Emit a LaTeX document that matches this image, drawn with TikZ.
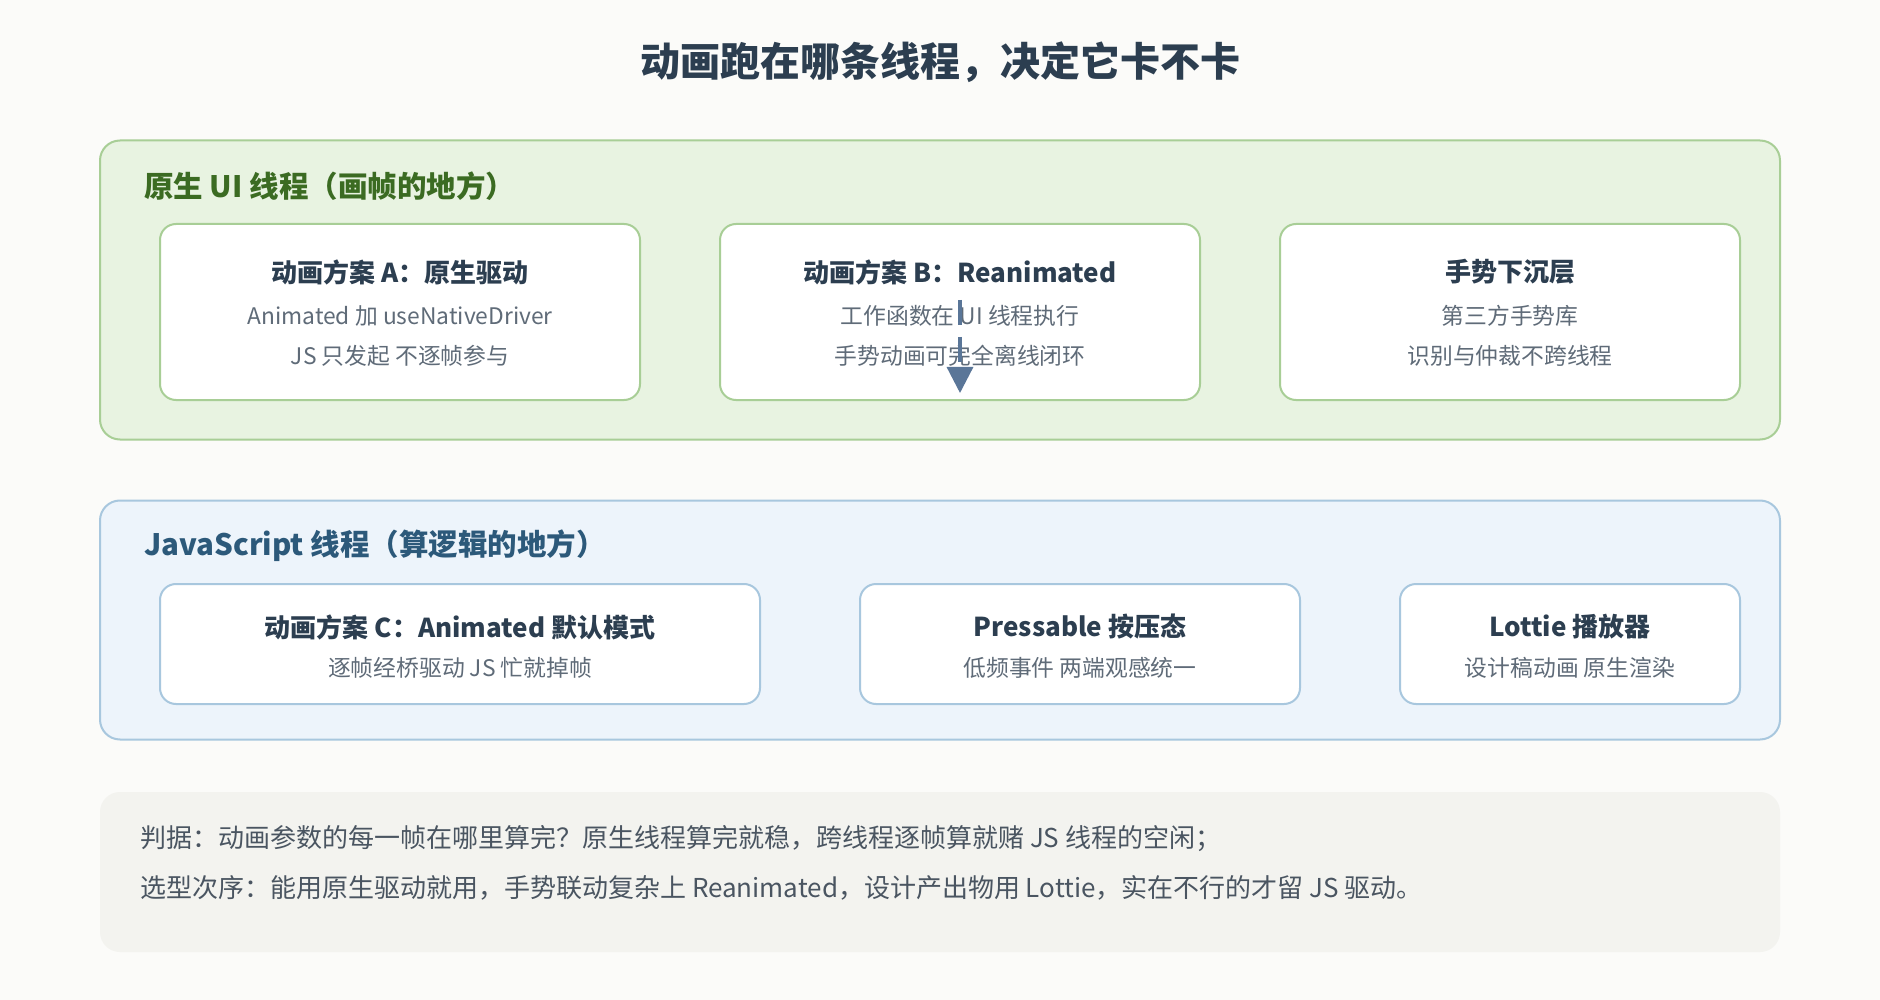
\documentclass[tikz,border=0pt]{standalone}
\usepackage{fontspec}
\setmainfont{Noto Sans CJK SC}
\usepackage{tikz}
\usetikzlibrary{positioning}
\usetikzlibrary{arrows.meta}

\definecolor{bgc}{HTML}{FBFBF9}
\definecolor{gfill}{HTML}{E8F3E1}
\definecolor{gline}{HTML}{A8CE96}
\definecolor{gtxt}{HTML}{3B6B22}
\definecolor{bfill}{HTML}{EDF4FB}
\definecolor{bline}{HTML}{A8C7DE}
\definecolor{btxt}{HTML}{2C597A}
\definecolor{ink}{HTML}{2C3E50}
\definecolor{soft}{HTML}{5F6B78}
\definecolor{note}{HTML}{4A5561}
\definecolor{nfill}{HTML}{F3F3EF}
\definecolor{arr}{HTML}{5A7698}

\begin{document}
\begin{tikzpicture}[x=1pt, y=-1pt,
		zone/.style={draw, rectangle, rounded corners=20pt, line width=2pt, inner sep=0pt},
		card/.style={draw, rectangle, rounded corners=16pt, line width=2pt, fill=white, inner sep=0pt, minimum height=#1},
		zonelbl/.style={anchor=west, inner sep=0pt, font=\fontsize{29.5}{35}\selectfont\bfseries},
		cardttl/.style={inner sep=0pt, text=ink, font=\fontsize{26}{31}\selectfont\bfseries},
		cardsub/.style={inner sep=0pt, text=soft, font=\fontsize{22.8}{27}\selectfont},
		notelbl/.style={anchor=west, inner sep=0pt, text=note, font=\fontsize{26}{30}\selectfont},
		flow/.style={draw=arr, line width=3.3pt, dash pattern=on 25pt off 12pt, -{Triangle[width=26pt, length=26pt, fill=arr]}}]
		\useasboundingbox[fill=bgc] (0, 0) rectangle (1880, 1000);

		\node[inner sep=0pt, text=ink, font=\fontsize{40}{47}\selectfont\bfseries] (title) at (940, 62) {动画跑在哪条线程，决定它卡不卡};

		% UI thread
		\node[zone, fill=gfill, draw=gline, minimum width=1680pt, minimum height=299pt] (ui) at (940, 290) {};
		\node[zonelbl, text=gtxt] (uilbl) at (144, 186) {原生 UI 线程（画帧的地方）};

		\node[card=176pt, draw=gline, minimum width=480pt] (planA) at (400, 312) {};
		\node[card=176pt, draw=gline, minimum width=480pt] (planB) at (960, 312) {};
		\node[card=176pt, draw=gline, minimum width=460pt] (gest) at (1510, 312) {};

		\node[cardttl] (planAt) at (400, 272) {动画方案 A：原生驱动};
		\node[cardsub] (planAs1) at (400, 316) {Animated 加 useNativeDriver};
		\node[cardsub] (planAs2) at (400, 356) {JS 只发起 不逐帧参与};
		\node[cardttl] (planBt) at (960, 272) {动画方案 B：Reanimated};
		\node[cardsub] (planBs1) at (960, 316) {工作函数在 UI 线程执行};
		\node[cardsub] (planBs2) at (960, 356) {手势动画可完全离线闭环};
		\node[cardttl] (gestt) at (1510, 272) {手势下沉层};
		\node[cardsub] (gests1) at (1510, 316) {第三方手势库};
		\node[cardsub] (gests2) at (1510, 356) {识别与仲裁不跨线程};

		\coordinate (flowS) at (960, 300);
		\coordinate (flowE) at (960, 393);
		\path[flow] (flowS) -- (flowE);

		% JS thread
		\node[zone, fill=bfill, draw=bline, minimum width=1680pt, minimum height=239pt] (js) at (940, 620) {};
		\node[zonelbl, text=btxt] (jslbl) at (144, 546) {JavaScript 线程（算逻辑的地方）};

		\node[card=120pt, draw=bline, minimum width=600pt] (planC) at (460, 644) {};
		\node[card=120pt, draw=bline, minimum width=440pt] (press) at (1080, 644) {};
		\node[card=120pt, draw=bline, minimum width=340pt] (lottie) at (1570, 644) {};

		\node[cardttl] (planCt) at (460, 627) {动画方案 C：Animated 默认模式};
		\node[cardsub] (planCs) at (460, 668) {逐帧经桥驱动 JS 忙就掉帧};
		\node[cardttl] (presst) at (1080, 627) {Pressable 按压态};
		\node[cardsub] (presss) at (1080, 668) {低频事件 两端观感统一};
		\node[cardttl] (lottiet) at (1570, 627) {Lottie 播放器};
		\node[cardsub] (lotties) at (1570, 668) {设计稿动画 原生渲染};

		% verdict
		\node[rectangle, rounded corners=20pt, fill=nfill, inner sep=0pt, minimum width=1680pt, minimum height=160pt] (verdict) at (940, 872) {};
		\node[notelbl] (rule1) at (140, 839) {判据：动画参数的每一帧在哪里算完？原生线程算完就稳，跨线程逐帧算就赌 JS 线程的空闲；};
		\node[notelbl] (rule2) at (140, 888) {选型次序：能用原生驱动就用，手势联动复杂上 Reanimated，设计产出物用 Lottie，实在不行的才留 JS 驱动。};
\end{tikzpicture}
\end{document}
